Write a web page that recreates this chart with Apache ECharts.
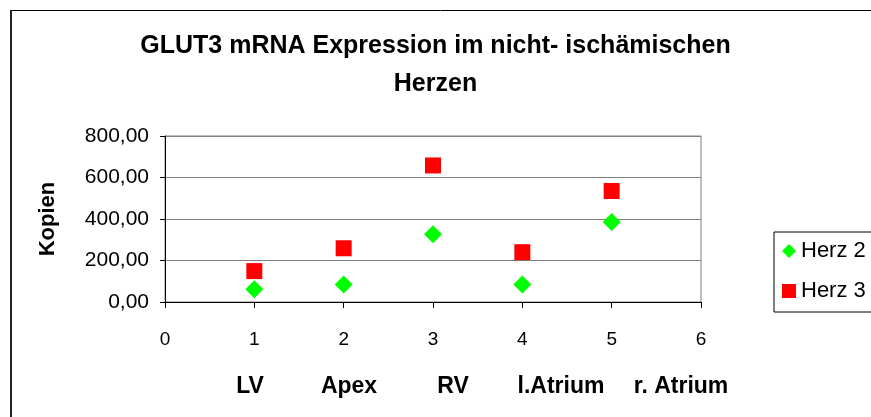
<!DOCTYPE html>
<html>
<head>
<meta charset="utf-8">
<script src="https://cdn.jsdelivr.net/npm/echarts@6/dist/echarts.min.js"></script>
<style>
  html, body { margin: 0; padding: 0; background: #fff; }
  #chart { width: 871px; height: 417px; }
</style>
</head>
<body>
<div id="chart"></div>
<script>
// data
const xPositions = [1, 2, 3, 4, 5];
const categories = ["LV", "Apex", "RV", "l.Atrium", "r. Atrium"];
const herz2 = [62, 84, 327, 84, 386];
const herz3 = [149, 259, 658, 240, 535];
const yTicks = [0, 200, 400, 600, 800];

// label x positions under the axis (typed as text in the original)
const catLabelX = [250, 349, 453, 561, 681];

const chart = echarts.init(document.getElementById("chart"));
const font = "Liberation Sans, Arial, sans-serif";

const options = {
    animation: false,
    textStyle: { fontFamily: font },
    title: {
        text: "GLUT3 mRNA Expression im nicht- ischämischen\nHerzen",
        left: "center",
        top: 22,
        textStyle: {
            fontFamily: font,
            fontSize: 25,
            fontWeight: "bold",
            color: "#000",
            lineHeight: 38,
        },
    },
    legend: {
        orient: "vertical",
        left: 774,
        top: 232,
        padding: [7, 40, 9, 8],
        itemGap: 16,
        itemWidth: 14,
        itemHeight: 14,
        borderColor: "#000",
        borderWidth: 1,
        textStyle: { fontFamily: font, fontSize: 22, color: "#000", lineHeight: 24 },
        data: [
            { name: "Herz 2", icon: "diamond" },
            { name: "Herz 3", icon: "rect" },
        ],
    },
    grid: {
        left: 165,
        right: 170,
        top: 136,
        bottom: 115,
        show: true,
        borderColor: "#808080",
        borderWidth: 1,
    },
    xAxis: {
        type: "value",
        min: 0,
        max: 6,
        interval: 1,
        axisLine: { show: true, lineStyle: { color: "#000", width: 1 } },
        axisTick: { show: true, inside: false, length: 6, lineStyle: { color: "#000" } },
        axisLabel: { color: "#000", fontSize: 19, margin: 28 },
        splitLine: { show: false },
    },
    yAxis: {
        type: "value",
        min: yTicks[0],
        max: yTicks[yTicks.length - 1],
        interval: 200,
        name: "Kopien",
        nameLocation: "middle",
        nameRotate: 90,
        nameGap: 106,
        nameTextStyle: { fontFamily: font, fontSize: 22, fontWeight: "bold", color: "#000" },
        axisLine: { show: true, lineStyle: { color: "#000", width: 1 } },
        axisTick: { show: true, inside: false, length: 5, lineStyle: { color: "#000" } },
        axisLabel: {
            color: "#000",
            fontSize: 21,
            margin: 16,
            formatter: (v) => v.toFixed(2).replace(".", ","),
        },
        splitLine: { show: true, lineStyle: { color: "#808080", width: 1 } },
    },
    graphic: [
        {
            type: "line",
            shape: { x1: 10, y1: 10.5, x2: 871, y2: 10.5 },
            style: { stroke: "#000", lineWidth: 1 },
        },
        {
            type: "line",
            shape: { x1: 11, y1: 10, x2: 11, y2: 417 },
            style: { stroke: "#222", lineWidth: 2 },
        },
        ...categories.map((c, i) => ({
            type: "text",
            x: catLabelX[i],
            y: 387,
            style: {
                text: c,
                fill: "#000",
                font: "bold 23px " + font,
                textAlign: "center",
                textVerticalAlign: "middle",
            },
        })),
    ],
    series: [
        {
            name: "Herz 2",
            type: "scatter",
            symbol: "diamond",
            symbolSize: [18, 18],
            itemStyle: { color: "#00ff00", opacity: 1 },
            data: xPositions.map((x, i) => [x, herz2[i]]),
        },
        {
            name: "Herz 3",
            type: "scatter",
            symbol: "rect",
            symbolSize: [16, 16],
            itemStyle: { color: "#ff0000", opacity: 1 },
            data: xPositions.map((x, i) => [x, herz3[i]]),
        },
    ],
};

chart.setOption(options);
</script>
</body>
</html>
